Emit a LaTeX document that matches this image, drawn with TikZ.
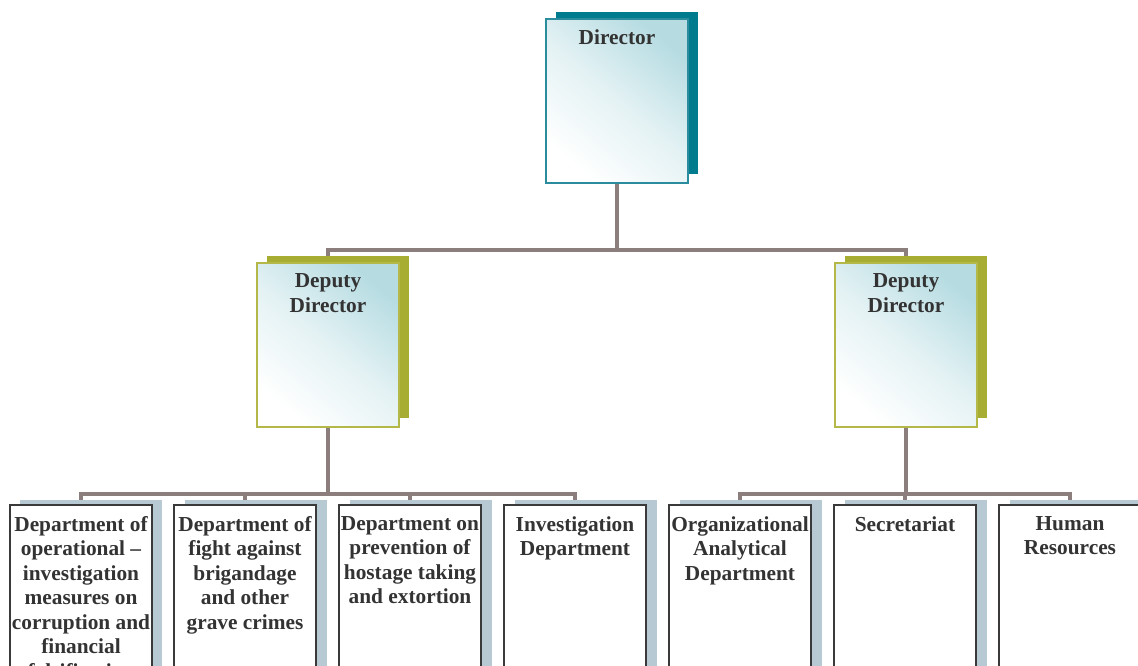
\documentclass[tikz,border=0pt]{standalone}
\usepackage{fontspec}
\setmainfont{Liberation Serif}
\usetikzlibrary{backgrounds}
\definecolor{connc}{HTML}{8C7E7C}
\definecolor{tealS}{HTML}{007C8E}
\definecolor{tealB}{HTML}{2A8C9C}
\definecolor{oliveS}{HTML}{A7AD32}
\definecolor{oliveB}{HTML}{B3B848}
\definecolor{gblue}{HTML}{B6DCE2}
\definecolor{gmid}{HTML}{E4F2F4}
\definecolor{greyS}{HTML}{B7CAD4}
\definecolor{boxB}{HTML}{3A3A3A}
\definecolor{txt}{HTML}{333333}
\begin{document}
\begin{tikzpicture}[x=0.75pt,y=-0.75pt,
  conn/.style={draw=connc,line width=3.3pt},
  bx/.style={rectangle,inner sep=0pt,outer sep=0pt,minimum width=106.5pt},
  topbox/.style={bx,minimum height=123pt,draw=tealB,line width=1.2pt,
     top color=gblue,bottom color=white,middle color=gmid,shading angle=-40},
  depbox/.style={bx,minimum height=123pt,draw=oliveB,line width=1.2pt,
     top color=gblue,bottom color=white,middle color=gmid,shading angle=-40},
  topsh/.style={bx,minimum height=121.5pt,fill=tealS},
  depsh/.style={bx,minimum height=121.5pt,fill=oliveS},
  dept/.style={bx,minimum height=150pt,draw=boxB,fill=white,line width=1.2pt},
  deptsh/.style={bx,minimum height=150pt,fill=greyS},
  lbl/.style={anchor=north,inner sep=0pt,align=center,text=txt,
     font=\bfseries\fontsize{16}{18.4}\selectfont}]
\useasboundingbox (0,0) rectangle (1138,666);
\clip (0,0) rectangle (1138,666);
% shadows
\node[topsh] (dirS) at (627,93) {};
\node[depsh] (dlS) at (338,337) {};
\node[depsh] (drS) at (916,337) {};
% bus coordinates
\coordinate (busA) at (617,250);
\coordinate (busL) at (328,494);
\coordinate (busR) at (906,494);
% department shadows
\node[deptsh] (s1) at (91,600) {};
\node[deptsh] (s2) at (256,600) {};
\node[deptsh] (s3) at (421,600) {};
\node[deptsh] (s4) at (586,600) {};
\node[deptsh] (s5) at (751,600) {};
\node[deptsh] (s6) at (916,600) {};
\node[deptsh] (s7) at (1081,600) {};
% front boxes
\node[topbox] (dir) at (617,101) {};
\node[depbox] (dl) at (328,345) {};
\node[depbox] (dr) at (906,345) {};
\node[dept] (b1) at (81,605) {};
\node[dept] (b2) at (245,605) {};
\node[dept] (b3) at (410,605) {};
\node[dept] (b4) at (575,605) {};
\node[dept] (b5) at (740,605) {};
\node[dept] (b6) at (905,605) {};
\node[dept] (b7) at (1070,605) {};
% labels
\node[lbl] (tdir) at (617,29.5) {Director};
\node[lbl] (tdl) at (328,273.5) {Deputy\\Director};
\node[lbl] (tdr) at (906,273.5) {Deputy\\Director};
\node[lbl] (t1) at (81,516) {Department of\\operational --\\investigation\\measures on\\corruption and\\financial\\falsification};
\node[lbl] (t2) at (245,516) {Department of\\fight against\\brigandage\\and other\\grave crimes};
\node[lbl] (t3) at (410,516) {Department on\\prevention of\\hostage taking\\and extortion};
\node[lbl] (t4) at (575,516) {Investigation\\Department};
\node[lbl] (t5) at (740,516) {Organizational\\Analytical\\Department};
\node[lbl] (t6) at (905,516) {Secretariat};
\node[lbl] (t7) at (1070,516) {Human\\Resources};
% connectors (behind boxes)
\begin{scope}[on background layer]
\draw[conn] (dir.south) -- (busA);
\draw[conn] (dl.north) |- (busA) -| (dr.north);
\draw[conn] (dl.south) -- (busL);
\draw[conn] (b1.north) |- (busL) -| (b4.north);
\draw[conn] (b2.north) -- (b2.north |- busL);
\draw[conn] (b3.north) -- (b3.north |- busL);
\draw[conn] (dr.south) -- (busR);
\draw[conn] (b5.north) |- (busR) -| (b7.north);
\draw[conn] (b6.north) -- (b6.north |- busR);
\end{scope}
\end{tikzpicture}
\end{document}
